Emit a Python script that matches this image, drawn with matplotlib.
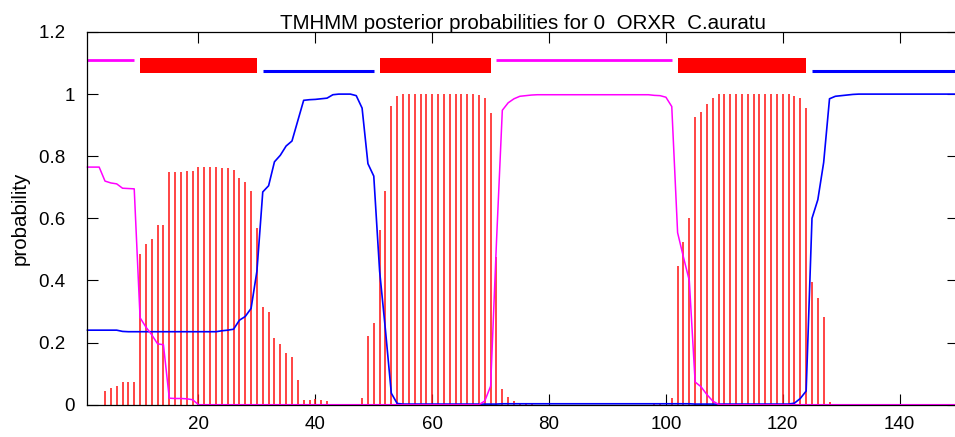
import matplotlib
matplotlib.use("Agg")
import matplotlib.pyplot as plt
from matplotlib.ticker import FuncFormatter
import numpy as np

plt.rcParams["font.family"] = ["Liberation Sans", "DejaVu Sans"]

TITLE = "TMHMM posterior probabilities for 0  ORXR  C.auratu"
SEQ_LEN = 150

# per-residue posterior probabilities, residues 1..150
tm_prob = [
    0, 0, 0, 0.045, 0.055, 0.059, 0.073, 0.073, 0.073, 0.486,
    0.519, 0.534, 0.579, 0.579, 0.748, 0.748, 0.748, 0.752, 0.752, 0.766,
    0.766, 0.766, 0.766, 0.761, 0.761, 0.757, 0.729, 0.718, 0.688, 0.568,
    0.316, 0.298, 0.214, 0.195, 0.166, 0.152, 0.078, 0.016, 0.015, 0.018,
    0.014, 0.013, 0.003, 0.003, 0.003, 0.003, 0.003, 0.02, 0.222, 0.264,
    0.564, 0.688, 0.961, 0.994, 1, 1, 1, 1, 1, 1,
    1, 1, 1, 1, 1, 1, 1, 0.996, 0.987, 0.939,
    0.474, 0.05, 0.026, 0.013, 0.005, 0.004, 0.003, 0, 0, 0,
    0, 0, 0, 0, 0, 0, 0, 0, 0, 0,
    0, 0, 0, 0, 0, 0, 0, 0.003, 0.003, 0,
    0.02, 0.446, 0.525, 0.6, 0.927, 0.942, 0.967, 0.988, 0.999, 1,
    1, 1, 1, 1, 1, 1, 1, 1, 1, 1,
    1, 0.993, 0.988, 0.956, 0.394, 0.343, 0.282, 0.008, 0.003, 0.003,
    0.003, 0.003, 0, 0, 0, 0, 0, 0, 0, 0,
    0, 0, 0, 0, 0, 0, 0, 0, 0, 0,
]

inside_prob = [
    0.24, 0.24, 0.24, 0.24, 0.24, 0.24, 0.236, 0.235, 0.235, 0.235,
    0.235, 0.235, 0.235, 0.235, 0.235, 0.235, 0.235, 0.235, 0.235, 0.235,
    0.235, 0.235, 0.235, 0.238, 0.24, 0.243, 0.272, 0.284, 0.31, 0.43,
    0.685, 0.705, 0.782, 0.803, 0.833, 0.849, 0.915, 0.98, 0.982, 0.983,
    0.985, 0.987, 0.998, 1, 1, 1, 0.995, 0.955, 0.776, 0.736,
    0.43, 0.24, 0.037, 0.004, 0.002, 0.002, 0.002, 0.002, 0.002, 0.002,
    0.002, 0.002, 0.002, 0.002, 0.002, 0.002, 0.002, 0.002, 0.002, 0.002,
    0.002, 0.003, 0.003, 0.003, 0.003, 0.003, 0.003, 0.003, 0.003, 0.003,
    0.003, 0.003, 0.003, 0.003, 0.003, 0.003, 0.003, 0.003, 0.003, 0.003,
    0.003, 0.003, 0.003, 0.003, 0.003, 0.003, 0.003, 0.003, 0.003, 0.003,
    0.003, 0.003, 0.003, 0.003, 0.002, 0.002, 0.002, 0.002, 0.002, 0.002,
    0.002, 0.002, 0.002, 0.002, 0.002, 0.002, 0.002, 0.002, 0.002, 0.002,
    0.002, 0.005, 0.02, 0.044, 0.6, 0.66, 0.78, 0.985, 0.993, 0.995,
    0.997, 0.999, 1, 1, 1, 1, 1, 1, 1, 1,
    1, 1, 1, 1, 1, 1, 1, 1, 1, 1,
]

outside_prob = [
    0.765, 0.765, 0.765, 0.72, 0.714, 0.711, 0.697, 0.696, 0.695, 0.28,
    0.25, 0.225, 0.196, 0.193, 0.021, 0.02, 0.02, 0.019, 0.016, 0,
    0, 0, 0, 0, 0, 0, 0, 0, 0, 0,
    0, 0, 0, 0, 0, 0, 0, 0, 0, 0,
    0, 0, 0, 0, 0, 0, 0, 0, 0, 0,
    0, 0, 0, 0, 0, 0, 0, 0, 0, 0,
    0, 0, 0, 0, 0, 0, 0, 0, 0.012, 0.06,
    0.524, 0.948, 0.972, 0.985, 0.993, 0.995, 0.997, 0.998, 0.998, 0.998,
    0.998, 0.998, 0.998, 0.998, 0.998, 0.998, 0.998, 0.998, 0.998, 0.998,
    0.998, 0.998, 0.998, 0.998, 0.998, 0.998, 0.998, 0.996, 0.995, 0.99,
    0.96, 0.554, 0.475, 0.4, 0.073, 0.058, 0.033, 0.012, 0.001, 0,
    0, 0, 0, 0, 0, 0, 0, 0, 0, 0,
    0, 0, 0, 0, 0, 0, 0, 0, 0, 0,
    0, 0, 0, 0, 0, 0, 0, 0, 0, 0,
    0, 0, 0, 0, 0, 0, 0, 0, 0, 0,
]

# predicted topology segments drawn above the curves
topo_start = [1, 10, 31, 51, 71, 102, 125]
topo_end = [9, 30, 50, 70, 101, 124, 150]
topo_kind = ["outside", "TM", "inside", "TM", "outside", "TM", "inside"]

xticks = [20, 40, 60, 80, 100, 120, 140]
yticks = [0, 0.2, 0.4, 0.6, 0.8, 1.0, 1.2]

residues = np.arange(1, SEQ_LEN + 1)

fig = plt.figure(figsize=(9.55, 4.37), dpi=100)
ax = fig.add_axes([0.0916, 0.0739, 0.9116, 0.8529])

ax.vlines(residues, 0, tm_prob, color="#ff1a1a", linewidth=1.15, clip_on=False)
ax.plot(residues, inside_prob, color="#0000ff", linewidth=1.2, clip_on=False)
ax.plot(residues, outside_prob, color="#ff00ff", linewidth=1.1, clip_on=False)

for s, e, kind in zip(topo_start, topo_end, topo_kind):
    if kind == "TM":
        ax.fill_between([s, e], 1.068, 1.115, color="#ff0000", linewidth=0)
    elif kind == "inside":
        ax.plot([s, e], [1.074, 1.074], color="#0000ff", linewidth=2.2,
                solid_capstyle="butt")
    else:
        ax.plot([s, e], [1.110, 1.110], color="#ff00ff", linewidth=2.0,
                solid_capstyle="butt")

ax.set_xlim(1, SEQ_LEN)
ax.set_ylim(0, 1.2)
ax.set_xticks(xticks)
ax.set_yticks(yticks)
# gnuplot-style: single-digit labels sit further right than "0.x" ones
ax.yaxis.set_major_formatter(
    FuncFormatter(lambda v, p: f"{v:g}" if len(f"{v:g}") == 1 else f"{v:g}\u2002"))

ax.tick_params(direction="in", length=8, width=0.8, top=True, right=True,
               labelsize=13.5, colors="black")
ax.tick_params(axis="x", pad=8)
ax.tick_params(axis="y", pad=9)
for sp in ax.spines.values():
    sp.set_linewidth(0.9)

ax.set_title(TITLE, fontsize=14.8, pad=2.5)
ax.set_ylabel("probability", fontsize=14.8, labelpad=7)

fig.savefig("out.png", dpi=100)
